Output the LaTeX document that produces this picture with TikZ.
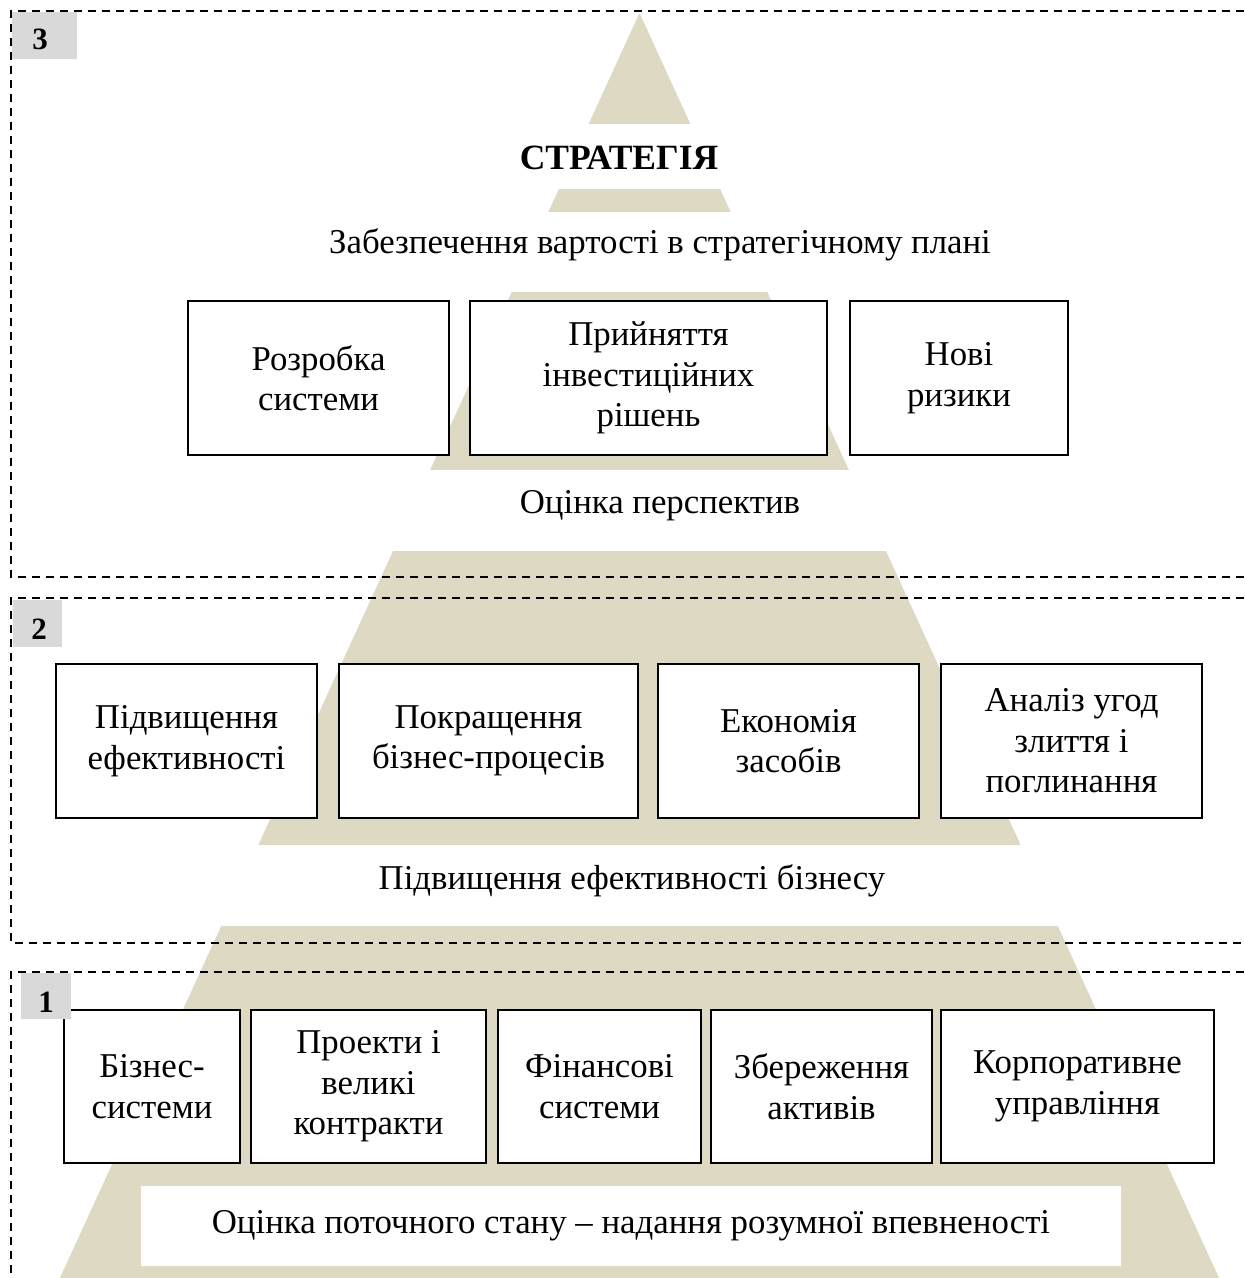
\documentclass[tikz,border=0pt]{standalone}
\usepackage{fontspec}
\setmainfont{Liberation Serif}
\definecolor{pyr}{HTML}{DDD9C3}
\definecolor{lab}{HTML}{D9D9D9}
\newcommand\mfs{\fontsize{34.8}{40.5}\selectfont}
\newcommand\bfs{\fontsize{35.5}{40.5}\selectfont\bfseries}
\newcommand\lfs{\fontsize{31}{34}\selectfont\bfseries}
\begin{document}
\begin{tikzpicture}[x=1pt,y=-1pt,
  box/.style={draw=black, line width=1.6pt, fill=white, align=center, inner sep=0pt, font=\mfs},
  txt/.style={inner sep=0pt, align=center, font=\mfs},
  frame/.style={draw=black, line width=1.8pt, dash pattern=on 8pt off 6pt},
  labbox/.style={fill=lab, inner sep=0pt},
  labtxt/.style={inner sep=0pt, font=\lfs}]
\useasboundingbox (0,0) rectangle (1245,1278);
\clip (0,0) rectangle (1245,1278);
% pyramid
\fill[pyr] (639.5,13) -- (1219.5,1279) -- (59.5,1279) -- cycle;
\fill[white] (0,124) rectangle (1245,189);
\fill[white] (0,212) rectangle (1245,292);
\fill[white] (0,470) rectangle (1245,551);
\fill[white] (0,845) rectangle (1245,926);
% frames
\draw[frame] (1300,11) -- (11,11) -- (11,577) -- (1300,577);
\draw[frame] (1300,598) -- (11,598) -- (11,943) -- (1300,943);
\draw[frame] (1300,972) -- (11,972) -- (11,1400);
% level 3
\node[txt, font=\bfs] (strat) at (619,158) {СТРАТЕГІЯ};
\node[txt] (value) at (660,245) {Забезпечення вартості в стратегічному плані};
\node[box, minimum width=261, minimum height=154] (b31) at (318.5,378) {Розробка\\системи};
\node[box, minimum width=357, minimum height=154] (b32) at (648.5,378) {Прийняття\\інвестиційних\\рішень};
\node[box, minimum width=218, minimum height=154] (b33) at (959,378) {Нові\\ризики};
\node[txt] (persp) at (660,506) {Оцінка перспектив};
% level 2
\node[box, minimum width=261, minimum height=154] (b21) at (186.5,741) {Підвищення\\ефективності};
\node[box, minimum width=299, minimum height=154] (b22) at (488.5,741) {Покращення\\бізнес-процесів};
\node[box, minimum width=261, minimum height=154] (b23) at (788.5,741) {Економія\\засобів};
\node[box, minimum width=261, minimum height=154] (b24) at (1071.5,741) {Аналіз угод\\злиття і\\поглинання};
\node[txt] (eff) at (632,881) {Підвищення ефективності бізнесу};
% level 1
\node[box, minimum width=176, minimum height=153] (b11) at (152,1086.5) {Бізнес-\\системи};
\node[box, minimum width=235, minimum height=153] (b12) at (368.5,1086.5) {Проекти і\\великі\\контракти};
\node[box, minimum width=203, minimum height=153] (b13) at (599.5,1086.5) {Фінансові\\системи};
\node[box, minimum width=221, minimum height=153] (b14) at (821.5,1086.5) {Збереження\\активів};
\node[box, minimum width=273, minimum height=153] (b15) at (1077.5,1086.5) {Корпоративне\\управління};
\node[fill=white, inner sep=0pt, minimum width=980, minimum height=80, font=\mfs] (cur) at (631,1226) {Оцінка поточного стану – надання розумної впевненості};
% labels
\node[labbox, minimum width=65, minimum height=47] (l3) at (44.5,35.5) {};
\node[labtxt] at (40,39) {3};
\node[labbox, minimum width=49, minimum height=47] (l2) at (37.5,623.5) {};
\node[labtxt] at (39,629) {2};
\node[labbox, minimum width=50, minimum height=46] (l1) at (46,996) {};
\node[labtxt] at (46,1002) {1};
\end{tikzpicture}
\end{document}
